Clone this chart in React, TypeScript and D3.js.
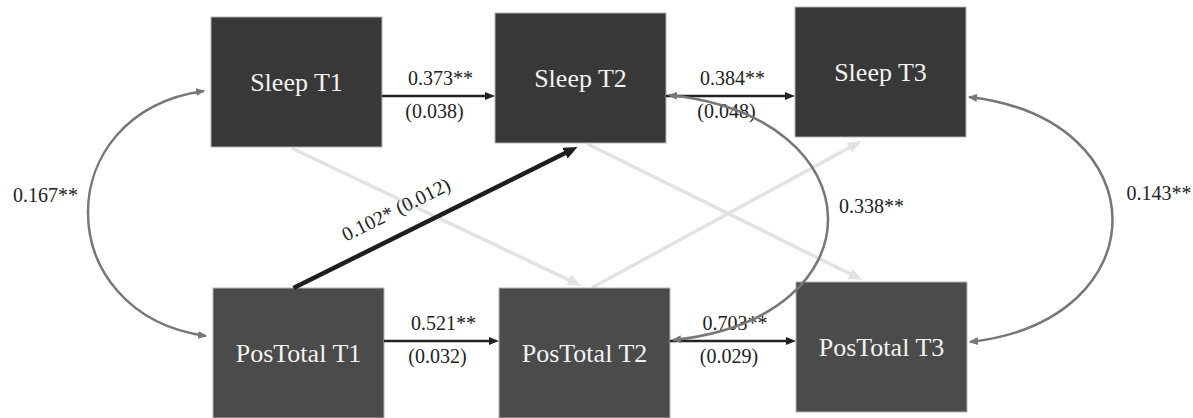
import React from "react";
import * as d3 from "d3";

// model structure
const waves = ["T1", "T2", "T3"];
const constructs = ["Sleep", "PosTotal"];

// autoregressive paths (same construct, next wave)
const stabilityPaths = [
  { construct: "Sleep", from: "T1", to: "T2", est: 0.373, se: 0.038, sig: "**" },
  { construct: "Sleep", from: "T2", to: "T3", est: 0.384, se: 0.048, sig: "**" },
  { construct: "PosTotal", from: "T1", to: "T2", est: 0.521, se: 0.032, sig: "**" },
  { construct: "PosTotal", from: "T2", to: "T3", est: 0.703, se: 0.029, sig: "**" },
];

// cross-lagged paths, only the significant one carries an estimate
const crossPaths = [
  { from: "Sleep", fromWave: "T1", to: "PosTotal", toWave: "T2", est: null, se: null, sig: "" },
  { from: "Sleep", fromWave: "T2", to: "PosTotal", toWave: "T3", est: null, se: null, sig: "" },
  { from: "PosTotal", fromWave: "T1", to: "Sleep", toWave: "T2", est: 0.102, se: 0.012, sig: "*" },
  { from: "PosTotal", fromWave: "T2", to: "Sleep", toWave: "T3", est: null, se: null, sig: "" },
];

// within-wave covariances
const covariances = [
  { wave: "T1", est: 0.167, sig: "**" },
  { wave: "T2", est: 0.338, sig: "**" },
  { wave: "T3", est: 0.143, sig: "**" },
];

const W = 1193;
const H = 418;
const BOX_W = 171;
const BOX_H = 130;
const FONT = "'Liberation Serif', 'Times New Roman', serif";
const fmt = d3.format(".3f");

// layout
const colX = d3.scaleOrdinal<string, number>().domain(waves).range([211, 495, 795]);
const rowY = d3.scaleOrdinal<string, number>().domain(constructs).range([13, 288]);
const laneY = d3.scaleOrdinal<string, number>().domain(constructs).range([96, 341]);
const nudge: Record<string, [number, number]> = {
  "Sleep T1": [0, 4],
  "Sleep T3": [0, -6],
  "PosTotal T1": [2, 0],
  "PosTotal T2": [4, 0],
  "PosTotal T3": [1, -6],
};
const boxFill: Record<string, string> = { Sleep: "#383838", PosTotal: "#4b4b4b" };
const crossSrcDx: Record<string, number> = { T1: -5, T2: 7 };
const crossTgtDx: Record<string, number> = { T2: -3, T3: -19 };
const covSide: Record<string, number> = { T1: -1, T2: 1, T3: 1 };
const covLift: Record<string, number> = { T1: 5, T2: 1, T3: -1 };
const covBulge: Record<string, number> = { T1: 117, T2: 157, T3: 143 };
const covLabelDy: Record<string, number> = { T1: -12, T2: -5, T3: -20 };
const covLabelDx: Record<string, number> = { T1: -10, T2: 11, T3: 14 };

function box(c: string, w: string) {
  const [dx, dy] = nudge[`${c} ${w}`] ?? [0, 0];
  const left = colX(w) + dx;
  const top = rowY(c) + dy;
  return { left, top, right: left + BOX_W, bottom: top + BOX_H, cx: left + BOX_W / 2, cy: top + BOX_H / 2 };
}

function shorten(p0: number[], p1: number[], d: number) {
  const dx = p1[0] - p0[0];
  const dy = p1[1] - p0[1];
  const len = Math.hypot(dx, dy);
  return [p1[0] - (dx / len) * d, p1[1] - (dy / len) * d];
}

const heads = [
  { id: "dark", len: 10, wid: 8, color: "#222" },
  { id: "bold", len: 14, wid: 12, color: "#1e1e1e" },
  { id: "light", len: 14, wid: 11, color: "#e2e2e2" },
  { id: "grey", len: 9, wid: 8, color: "#777" },
];

export default function App() {
  const nodes = constructs.flatMap((c) => waves.map((w) => ({ c, w, label: `${c} ${w}`, b: box(c, w) })));

  const stab = stabilityPaths.map((p) => {
    const s = box(p.construct, p.from);
    const t = box(p.construct, p.to);
    const yy = laneY(p.construct);
    const p0 = [s.right, yy];
    const p1 = [t.left, yy];
    const end = shorten(p0, p1, 8);
    return { ...p, p0, p1, end, mid: (s.right + t.left) / 2, yy };
  });

  const cross = crossPaths.map((p) => {
    const s = box(p.from, p.fromWave);
    const t = box(p.to, p.toWave);
    const down = p.from === "Sleep";
    const p0 = [s.cx + crossSrcDx[p.fromWave], down ? s.bottom + 1 : s.top];
    const p1 = [t.cx + crossTgtDx[p.toWave], down ? t.top - 2 : t.bottom + 4];
    const sig = p.est !== null;
    const end = shorten(p0, p1, sig ? 12 : 12);
    return { ...p, p0, p1, end, sig };
  });

  const covs = covariances.map((cv) => {
    const a = box("Sleep", cv.wave);
    const b = box("PosTotal", cv.wave);
    const side = covSide[cv.wave];
    const ax = side < 0 ? a.left - 7 : a.right + 3;
    const bx = side < 0 ? b.left - 7 : b.right + 3;
    const ay = laneY("Sleep") - covLift[cv.wave];
    const by = laneY("PosTotal") - covLift[cv.wave];
    const ctrl = (covBulge[cv.wave] / 0.75) * side;
    const path = d3.path();
    path.moveTo(ax, ay);
    path.bezierCurveTo(ax + ctrl, ay + 22, bx + ctrl, by - 22, bx, by);
    const extreme = (ax + bx) / 2 + covBulge[cv.wave] * side;
    const midY = (ay + by) / 2;
    return { ...cv, d: path.toString(), lx: extreme + covLabelDx[cv.wave], ly: midY + covLabelDy[cv.wave], anchor: side < 0 ? "end" : "start" };
  });

  return (
    <div style={{ position: "absolute", left: 0, top: 0 }}>
      <svg width={W} height={H} style={{ display: "block", background: "#fff" }} fontFamily={FONT}>
        <defs>
          {heads.map((h) => (
            <marker
              key={h.id}
              id={`head-${h.id}`}
              markerUnits="userSpaceOnUse"
              markerWidth={h.len}
              markerHeight={h.wid}
              refX={h.id === "grey" ? h.len - 1 : 2}
              refY={h.wid / 2}
              orient="auto-start-reverse"
            >
              <path d={`M0,0L${h.len},${h.wid / 2}L0,${h.wid}Z`} fill={h.color} />
            </marker>
          ))}
        </defs>

        {/* non-significant cross paths, drawn first */}
        {cross.filter((p) => !p.sig).map((p, i) => (
          <line key={`c${i}`} x1={p.p0[0]} y1={p.p0[1]} x2={p.end[0]} y2={p.end[1]}
            stroke="#e2e2e2" strokeWidth={3.5} markerEnd="url(#head-light)" />
        ))}

        {/* boxes */}
        {nodes.map((n) => (
          <g key={n.label}>
            <rect x={n.b.left} y={n.b.top} width={BOX_W} height={BOX_H} fill={boxFill[n.c]} stroke="#b4b4b4" strokeWidth={1} />
            <text x={n.b.cx} y={n.b.cy + 9} textAnchor="middle" fontSize={26} fill="#f2f2f2">{n.label}</text>
          </g>
        ))}

        {/* significant cross path */}
        {cross.filter((p) => p.sig).map((p, i) => {
          const dx = p.p1[0] - p.p0[0];
          const dy = p.p1[1] - p.p0[1];
          const len = Math.hypot(dx, dy);
          const ux = dx / len;
          const uy = dy / len;
          const ang = (Math.atan2(dy, dx) * 180) / Math.PI;
          const bx = p.p0[0] + ux * len * 0.4 + uy * 18;
          const by = p.p0[1] + uy * len * 0.4 - ux * 18;
          return (
            <g key={`s${i}`}>
              <line x1={p.p0[0]} y1={p.p0[1]} x2={p.end[0]} y2={p.end[1]}
                stroke="#1e1e1e" strokeWidth={4.5} markerEnd="url(#head-bold)" />
              <text x={bx} y={by} transform={`rotate(${ang},${bx},${by})`} textAnchor="middle" fontSize={20} fill="#222">
                {`${fmt(p.est as number)}${p.sig ? "*" : ""} (${fmt(p.se as number)})`}
              </text>
            </g>
          );
        })}

        {/* stability paths */}
        {stab.map((p, i) => (
          <g key={`a${i}`}>
            <line x1={p.p0[0]} y1={p.p0[1]} x2={p.end[0]} y2={p.end[1]}
              stroke="#222" strokeWidth={2.5} markerEnd="url(#head-dark)" />
            <text x={p.mid + 2} y={p.yy - 11} textAnchor="middle" fontSize={20} fill="#222">{`${fmt(p.est)}${p.sig}`}</text>
            <text x={p.mid - 4} y={p.yy + 22} textAnchor="middle" fontSize={20} fill="#222">{`(${fmt(p.se)})`}</text>
          </g>
        ))}

        {/* covariances */}
        {covs.map((cv) => (
          <g key={cv.wave}>
            <path d={cv.d} fill="none" stroke="#777" strokeWidth={2.5}
              markerStart="url(#head-grey)" markerEnd="url(#head-grey)" />
            <text x={cv.lx} y={cv.ly} textAnchor={cv.anchor} fontSize={20} fill="#222">{`${fmt(cv.est)}${cv.sig}`}</text>
          </g>
        ))}
      </svg>
    </div>
  );
}
